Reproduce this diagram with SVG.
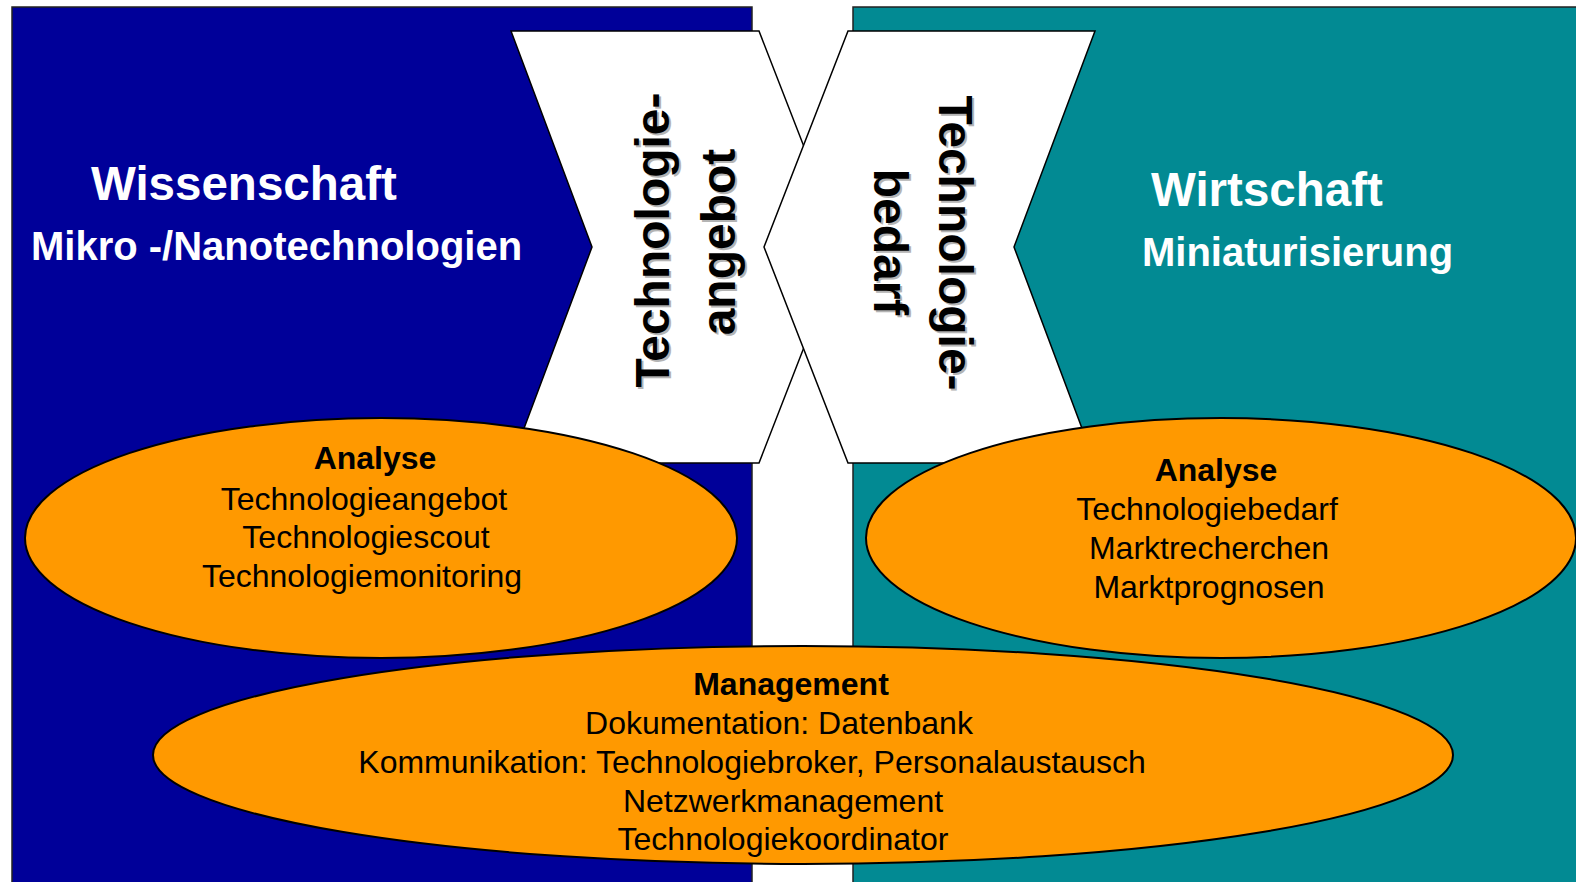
<svg xmlns="http://www.w3.org/2000/svg" width="1576" height="882" viewBox="0 0 1576 882">
<style>
.panel{stroke:#222;stroke-width:1.5}
.chev{fill:#fff;stroke:#000;stroke-width:1.5;stroke-linejoin:miter}
.ell{fill:#FF9900;stroke:#000;stroke-width:2}
.title{font-family:"Liberation Sans",Arial,sans-serif;font-weight:bold;fill:#fff;font-size:47.5px}
.sub{font-family:"Liberation Sans",Arial,sans-serif;font-weight:bold;fill:#fff;font-size:40px}
.vt{font-family:"Liberation Sans",Arial,sans-serif;font-weight:bold;font-size:48px;text-anchor:middle;fill:#000}
.vs{font-family:"Liberation Sans",Arial,sans-serif;font-weight:bold;font-size:48px;text-anchor:middle;fill:#b4b4b4}
.eh{font-family:"Liberation Sans",Arial,sans-serif;font-weight:bold;font-size:32px;text-anchor:middle;fill:#000}
.et{font-family:"Liberation Sans",Arial,sans-serif;font-size:32px;text-anchor:middle;fill:#000}
</style>
<rect width="1576" height="882" fill="#fff"/>
<g id="wissenschaft">
<rect class="panel" x="12" y="7" width="740" height="885" fill="#000099"/>
<text class="title" x="91" y="200">Wissenschaft</text>
<text class="sub" x="31" y="260">Mikro -/Nanotechnologien</text>
</g>
<g id="wirtschaft">
<rect class="panel" x="853" y="7" width="740" height="885" fill="#028A93"/>
<text class="title" x="1151" y="206">Wirtschaft</text>
<text class="sub" x="1142" y="266">Miniaturisierung</text>
</g>
<g id="technologieangebot">
<polygon class="chev" points="511,31 759,31 843,247 759,463 511,463 592,247"/>
<text class="vs" transform="translate(671,242) rotate(-90)">Technologie-</text>
<text class="vt" transform="translate(669,240) rotate(-90)">Technologie-</text>
<text class="vs" transform="translate(737,244) rotate(-90)">angebot</text>
<text class="vt" transform="translate(735,242) rotate(-90)">angebot</text>
</g>
<g id="technologiebedarf">
<polygon class="chev" points="848,31 1095,31 1014,247 1095,463 848,463 764,247"/>
<text class="vs" transform="translate(941,245) rotate(90)">Technologie-</text>
<text class="vt" transform="translate(939,243) rotate(90)">Technologie-</text>
<text class="vs" transform="translate(876,244) rotate(90)">bedarf</text>
<text class="vt" transform="translate(874,242) rotate(90)">bedarf</text>
</g>
<g id="connectors"></g>
<g id="analyse-links">
<ellipse class="ell" cx="381" cy="538" rx="356" ry="120"/>
<text class="eh" x="375" y="469">Analyse</text>
<text class="et" x="364" y="510">Technologieangebot</text>
<text class="et" x="366" y="548">Technologiescout</text>
<text class="et" x="362" y="587">Technologiemonitoring</text>
</g>
<g id="analyse-rechts">
<ellipse class="ell" cx="1221" cy="538" rx="355" ry="120"/>
<text class="eh" x="1216" y="481">Analyse</text>
<text class="et" x="1207" y="520">Technologiebedarf</text>
<text class="et" x="1209" y="559">Marktrecherchen</text>
<text class="et" x="1209" y="598">Marktprognosen</text>
</g>
<g id="management">
<ellipse class="ell" cx="803" cy="755" rx="650" ry="109"/>
<text class="eh" x="791" y="695">Management</text>
<text class="et" x="779" y="734">Dokumentation: Datenbank</text>
<text class="et" x="752" y="773">Kommunikation: Technologiebroker, Personalaustausch</text>
<text class="et" x="783" y="812">Netzwerkmanagement</text>
<text class="et" x="783" y="850">Technologiekoordinator</text>
</g>
</svg>
